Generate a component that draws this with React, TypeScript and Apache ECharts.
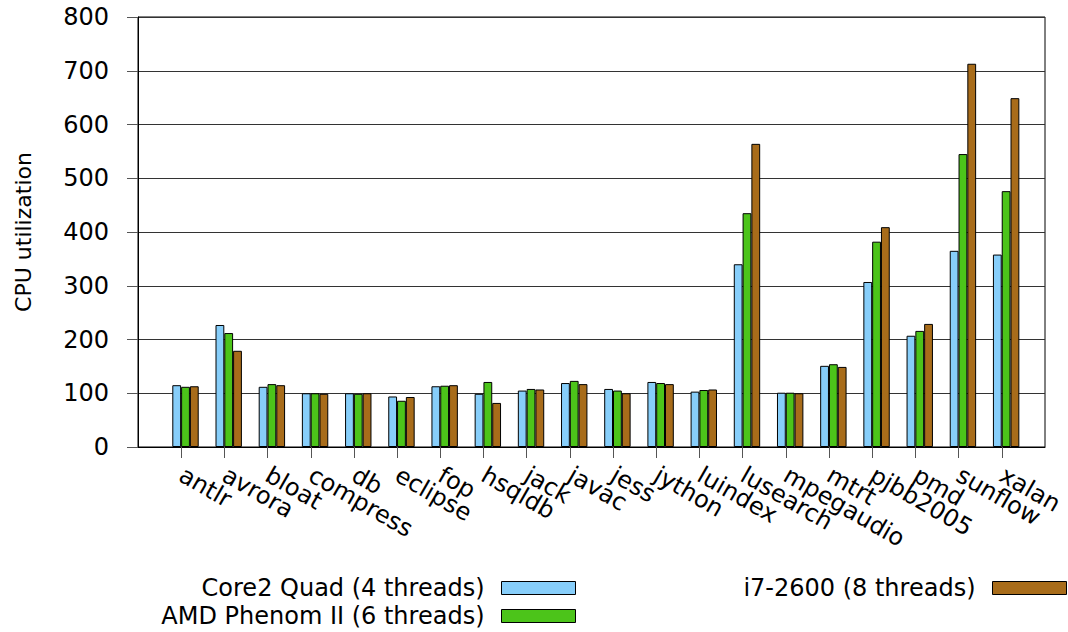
import React, { useEffect, useRef } from "react";
import * as echarts from "echarts";

// DaCapo / SPEC benchmarks
const benchmarks = [
  "antlr", "avrora", "bloat", "compress", "db", "eclipse", "fop", "hsqldb",
  "jack", "javac", "jess", "jython", "luindex", "lusearch", "mpegaudio",
  "mtrt", "pjbb2005", "pmd", "sunflow", "xalan",
];

const seriesNames = [
  "Core2 Quad (4 threads)",
  "AMD Phenom II (6 threads)",
  "i7-2600 (8 threads)",
];

// CPU utilization (%) per benchmark
const core2Quad = [115, 227, 112, 100, 100, 94, 113, 99, 105, 119, 108, 121, 103, 340, 101, 151, 307, 207, 365, 358];
const phenomII = [112, 212, 117, 100, 99, 86, 114, 121, 108, 123, 105, 119, 106, 435, 101, 154, 382, 216, 545, 476];
const i7_2600 = [113, 179, 115, 99, 100, 93, 115, 82, 107, 117, 100, 117, 107, 564, 100, 149, 409, 229, 713, 649];

const yTicks = [0, 100, 200, 300, 400, 500, 600, 700, 800];

const colors = ["#87cefa", "#4cc41a", "#a86c1a"];
const FONT = "DejaVu Sans";

export default function App() {
  const ref = useRef<HTMLDivElement>(null);

  useEffect(() => {
    if (!ref.current) return;
    const chart = echarts.init(ref.current, undefined, { renderer: "svg" });

    const W = 1068;
    const frameLeft = 138;
    const frameRight = 23;
    const top = 17;
    const bottom = 185;
    const frameWidth = W - frameLeft - frameRight;
    // frame x range runs from -1 to 20 (21 units); bar bands sit at [i-0.4, i+0.6]
    const xMin = -1;
    const xMax = benchmarks.length;
    const unit = frameWidth / (xMax - xMin);
    const barLeft = frameLeft + 0.6 * unit;
    const barRight = frameRight + 0.4 * unit;

    const tickIdx = benchmarks.map((_, i) => i);
    // blank labels at both ends keep every benchmark label visible
    const labelIdx = [xMin, ...tickIdx, xMax];
    const data = [core2Quad, phenomII, i7_2600];

    const legendBase = {
      align: "right" as const,
      orient: "horizontal" as const,
      icon: "rect",
      itemWidth: 74,
      itemHeight: 13,
      padding: 0,
      selectedMode: false,
      itemStyle: { borderColor: "#000", borderWidth: 1 },
      textStyle: { fontSize: 24, fontFamily: FONT, color: "#000", padding: [0, 12, 0, 0] },
    };

    chart.setOption({
      animation: false,
      backgroundColor: "#fff",
      textStyle: { fontFamily: FONT },
      grid: [
        {
          left: frameLeft, right: frameRight, top, bottom,
          show: true, borderColor: "#000", borderWidth: 1, backgroundColor: "transparent",
        },
        { left: barLeft, right: barRight, top, bottom },
      ],
      xAxis: [
        {
          type: "value",
          gridIndex: 0,
          min: xMin,
          max: xMax,
          axisLine: { show: true, onZero: false, lineStyle: { color: "#000", width: 1 } },
          axisTick: {
            show: true, inside: false, length: 11, customValues: tickIdx,
            lineStyle: { color: "#555" },
          },
          axisLabel: {
            customValues: labelIdx,
            hideOverlap: false,
            rotate: -30,
            margin: 26,
            fontSize: 24,
            fontFamily: FONT,
            color: "#000",
            formatter: (v: number) => benchmarks[Math.round(v)] ?? "",
          },
          splitLine: { show: false },
        },
        {
          type: "category",
          gridIndex: 1,
          data: benchmarks,
          show: false,
        },
      ],
      yAxis: [
        {
          type: "value",
          gridIndex: 0,
          min: yTicks[0],
          max: yTicks[yTicks.length - 1],
          interval: 100,
          name: "CPU utilization",
          nameLocation: "middle",
          nameRotate: 90,
          nameGap: 104,
          nameTextStyle: { fontSize: 22, fontFamily: FONT, color: "#000" },
          axisLine: { show: true, onZero: false, lineStyle: { color: "#000" } },
          axisTick: { show: true, inside: false, length: 11, lineStyle: { color: "#555" } },
          axisLabel: { margin: 29, fontSize: 24, fontFamily: FONT, color: "#000" },
          splitLine: { show: true, lineStyle: { color: "#333", width: 1 } },
        },
        {
          type: "value",
          gridIndex: 1,
          min: yTicks[0],
          max: yTicks[yTicks.length - 1],
          show: false,
          splitLine: { show: false },
        },
      ],
      legend: [
        { ...legendBase, data: [seriesNames[0]], right: 492, top: 576 },
        { ...legendBase, data: [seriesNames[1]], right: 492, top: 604 },
        { ...legendBase, data: [seriesNames[2]], right: 1, top: 576 },
      ],
      series: seriesNames.map((name, k) => ({
        name,
        type: "bar",
        xAxisIndex: 1,
        yAxisIndex: 1,
        data: data[k],
        barWidth: 8.8,
        barGap: "0%",
        itemStyle: { color: colors[k], borderColor: "#000", borderWidth: 1 },
      })),
    });

    return () => chart.dispose();
  }, []);

  return (
    <div
      ref={ref}
      style={{ position: "fixed", left: 0, top: 0, width: 1068, height: 632 }}
    />
  );
}
